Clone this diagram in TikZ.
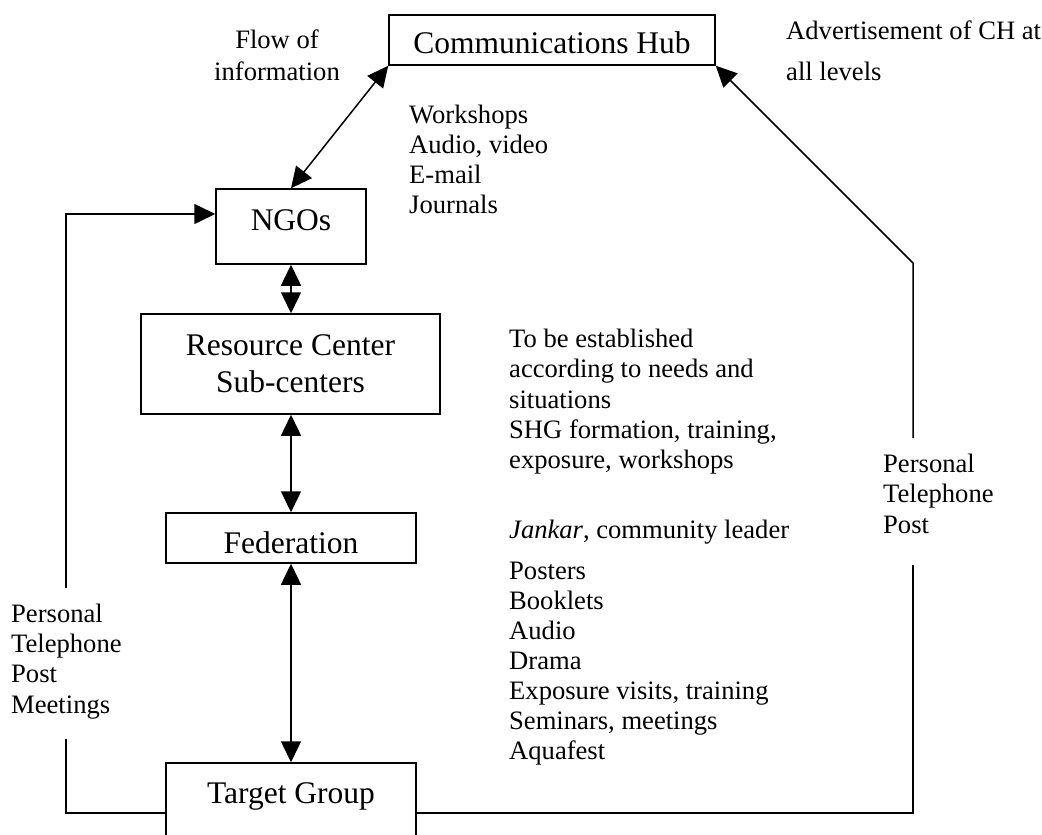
\documentclass[tikz,border=0pt]{standalone}
\usepackage{fontspec}
\setmainfont{Liberation Serif}
\usetikzlibrary{arrows.meta}

\tikzset{
  unitbox/.style={draw, line width=1.5pt, inner xsep=0pt, inner ysep=0pt,
    font=\fontsize{31.5}{37}\selectfont, align=center},
  side/.style={inner sep=0pt, anchor=base west, font=\fontsize{26.6}{30}\selectfont},
  sidec/.style={inner sep=0pt, anchor=base, font=\fontsize{26.6}{30}\selectfont},
  link/.style={line width=1.5pt},
  tip/.tip={Triangle[length=21pt,width=20pt]},
  arr/.style={link, -tip},
  dbl/.style={link, tip-tip}
}

\begin{document}
\begin{tikzpicture}[x=1pt, y=-1pt]
\useasboundingbox (0,0) rectangle (1042,835);
\clip (0,0) rectangle (1042,835);

% units of the network
\node[unitbox, anchor=base, minimum width=326pt, text height=38pt, text depth=12pt]
  (ch) at (552,53) {Communications Hub};
\node[unitbox, anchor=base, minimum width=150pt, text height=41pt, text depth=34pt]
  (ngo) at (291,230) {NGOs};
\node[unitbox, minimum width=299pt, minimum height=100pt]
  (rc) at (290.5,364) {Resource Center\\Sub-centers};
\node[unitbox, anchor=base, minimum width=250pt, text height=40pt, text depth=10pt]
  (fed) at (291,553) {Federation};
\node[unitbox, anchor=base, minimum width=250pt, text height=40pt, text depth=60pt]
  (tg) at (291,803) {Target Group};

% break points of the outer feedback lines
\coordinate (l1) at (66,739);
\coordinate (l2) at (66,588);
\coordinate (r2) at (913,565);
\coordinate (r3) at (913,438);
\coordinate (r4) at (913,263);

% vertical chain
\draw[dbl] (ch.south west) -- (ngo.north);
\draw[dbl] (ngo.south) -- (ngo.south |- rc.north);
\draw[dbl] (rc.south -| fed.north) -- (fed.north);
\draw[dbl] (fed.south) -- (tg.north);

% outer loops
\draw[link] (tg.west) -| (l1);
\draw[arr] (l2) |- ([yshift=12.5pt]ngo.west);
\draw[link] (tg.east) -| (r2);
\draw[arr] (r3) -- (r4) -- (ch.south east);

% annotations
\node[sidec] (flow1) at (277,48) {Flow of};
\node[sidec] (flow2) at (277,80) {information};

\node[side] (adv1) at (786,39) {Advertisement of CH at};
\node[side] (adv2) at (786,80) {all levels};

\node[side] (w1) at (409,123) {Workshops};
\node[side] (w2) at (409,153) {Audio, video};
\node[side] (w3) at (409,183) {E-mail};
\node[side] (w4) at (409,213) {Journals};

\node[side] (s1) at (509,347) {To be established};
\node[side] (s2) at (509,377) {according to needs and};
\node[side] (s3) at (509,408) {situations};
\node[side] (s4) at (509,438) {SHG formation, training,};
\node[side] (s5) at (509,468) {exposure, workshops};

\node[side] (j1) at (509,538) {\textit{Jankar}, community leader};
\node[side] (j2) at (509,579) {Posters};
\node[side] (j3) at (509,609) {Booklets};
\node[side] (j4) at (509,639) {Audio};
\node[side] (j5) at (509,669) {Drama};
\node[side] (j6) at (509,699) {Exposure visits, training};
\node[side] (j7) at (509,729) {Seminars, meetings};
\node[side] (j8) at (509,759) {Aquafest};

\node[side] (p1) at (11,622) {Personal};
\node[side] (p2) at (11,652) {Telephone};
\node[side] (p3) at (11,682) {Post};
\node[side] (p4) at (11,713) {Meetings};

\node[side] (q1) at (883,472) {Personal};
\node[side] (q2) at (883,502) {Telephone};
\node[side] (q3) at (883,533) {Post};
\end{tikzpicture}
\end{document}
